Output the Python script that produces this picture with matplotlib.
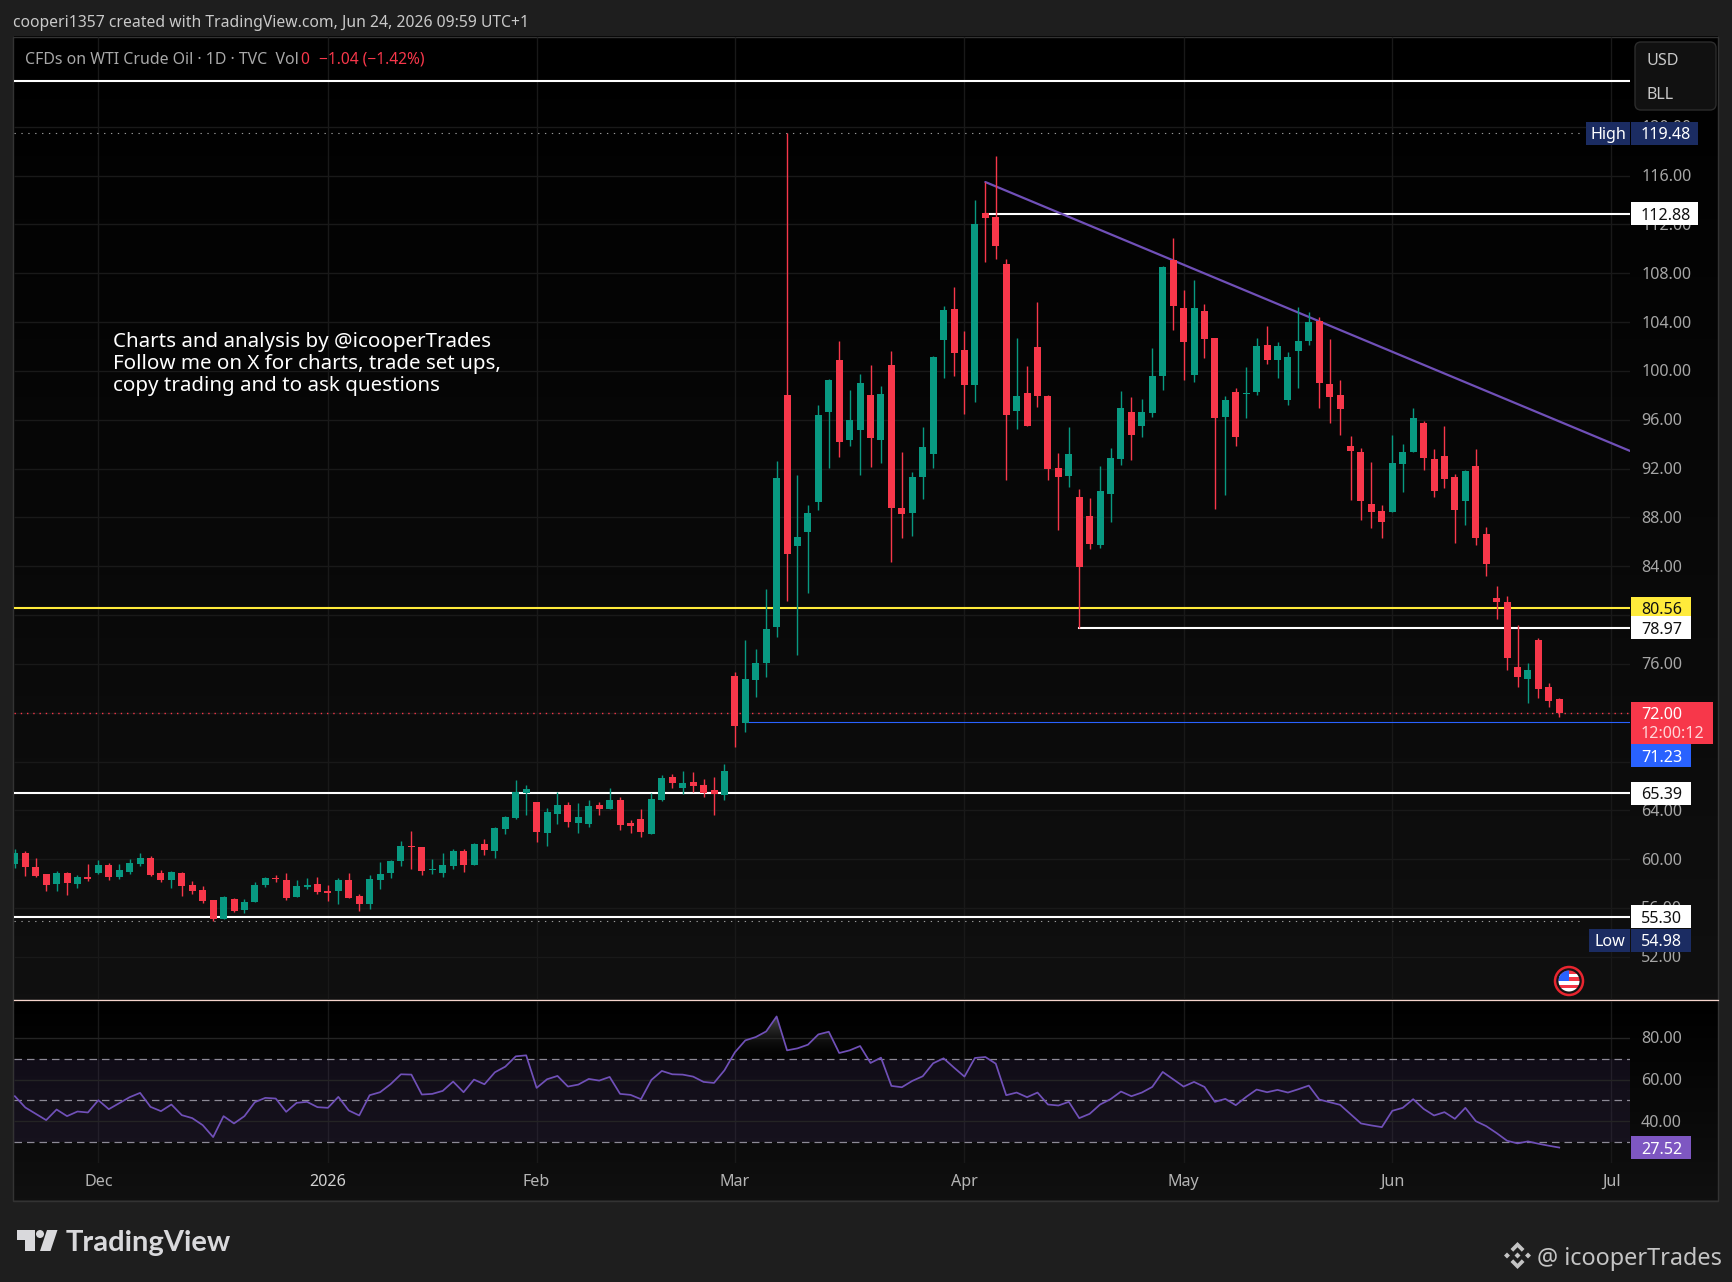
import numpy as np
import matplotlib
matplotlib.use("Agg")
import matplotlib.pyplot as plt
from matplotlib.colors import LinearSegmentedColormap
from matplotlib.patches import Rectangle, Circle, Polygon, FancyBboxPatch
from matplotlib.path import Path
from matplotlib.transforms import ScaledTranslation

plt.rcParams["font.family"] = ["Noto Sans", "DejaVu Sans"]

# daily OHLC
open_ = [59.61, 60.51, 59.37, 58.79, 57.97, 58.87, 57.97, 58.55, 58.87, 59.53,
         58.55, 58.96, 59.61, 60.10, 58.87, 58.30, 58.87, 57.89, 57.48, 56.66,
         55.11, 56.74, 55.84, 56.50, 57.89, 58.46, 58.30, 56.91, 57.73, 57.97,
         57.40, 57.40, 58.30, 56.99, 56.33, 58.30, 58.87, 59.86, 61.09, 61.00,
         59.12, 58.87, 59.45, 60.68, 59.53, 61.25, 60.68, 62.48, 63.38, 65.43,
         64.69, 62.15, 63.71, 64.45, 62.97, 62.89, 64.45, 64.12, 64.86, 62.97,
         63.30, 62.07, 64.86, 66.74, 65.84, 66.33, 66.08, 65.67, 65.27, 75.01,
         71.16, 74.69, 76.08, 79.03, 98.03, 85.66, 86.81, 89.27, 96.64, 100.90,
         94.35, 95.16, 98.03, 94.35, 100.49, 88.77, 88.37, 91.31, 93.20, 102.54,
         105.08, 101.72, 98.85, 112.94, 112.61, 108.76, 96.72, 98.20, 101.96, 97.95,
         92.05, 91.40, 89.68, 88.12, 85.75, 89.92, 92.79, 96.64, 95.49, 96.56,
         99.59, 109.09, 105.16, 99.67, 104.92, 102.70, 96.23, 98.28, 98.12, 98.28,
         102.13, 100.90, 97.62, 101.64, 102.46, 104.10, 98.93, 98.03, 93.85, 93.36,
         89.10, 88.53, 88.45, 92.38, 93.36, 95.74, 92.79, 93.03, 91.31, 89.35,
         92.21, 86.64, 81.40, 81.07, 75.75, 74.76, 77.96, 74.11, 73.13]
high = [60.84, 60.68, 60.10, 58.79, 59.04, 58.96, 58.71, 59.61, 59.94, 59.69,
        59.61, 60.02, 60.51, 60.27, 59.12, 59.04, 58.96, 58.22, 57.81, 56.66,
        56.99, 56.83, 56.74, 58.14, 58.55, 58.71, 58.87, 58.30, 58.46, 58.55,
        57.89, 58.46, 58.87, 57.15, 58.71, 59.78, 59.94, 61.50, 62.32, 61.00,
        60.02, 60.51, 60.84, 60.84, 61.33, 61.66, 62.64, 63.55, 66.49, 66.08,
        64.69, 64.20, 65.51, 64.69, 64.61, 64.86, 64.69, 65.84, 65.10, 63.22,
        64.12, 65.43, 66.90, 66.99, 67.23, 67.15, 66.58, 66.74, 67.80, 75.34,
        77.96, 77.23, 82.14, 92.62, 119.48, 91.48, 89.02, 97.21, 99.34, 102.46,
        98.44, 99.75, 100.49, 98.77, 101.64, 93.36, 91.72, 95.41, 101.23, 105.32,
        106.88, 103.27, 114.01, 115.48, 117.61, 109.17, 102.70, 100.41, 105.65, 98.03,
        93.28, 95.41, 90.33, 89.60, 92.22, 93.69, 98.36, 97.87, 97.71, 101.88,
        108.60, 110.90, 106.64, 107.45, 105.49, 102.70, 97.95, 98.61, 100.33, 102.70,
        103.69, 102.38, 101.56, 105.24, 104.83, 104.42, 102.62, 99.30, 94.67, 93.69,
        92.54, 89.02, 94.75, 94.02, 96.97, 95.90, 93.61, 95.49, 91.56, 91.89,
        93.61, 87.22, 82.38, 81.56, 79.19, 76.08, 78.12, 74.44, 73.21]
low = [59.28, 58.63, 58.55, 57.40, 57.40, 57.07, 57.65, 58.22, 58.79, 58.30,
       58.38, 58.79, 59.45, 58.63, 58.14, 57.65, 56.99, 57.15, 56.42, 54.98,
       55.11, 55.68, 55.60, 56.50, 57.73, 58.14, 56.66, 56.91, 57.56, 57.15,
       56.58, 56.33, 56.83, 55.76, 55.93, 57.56, 58.46, 59.45, 59.20, 58.71,
       58.79, 58.55, 59.20, 58.96, 59.53, 60.35, 60.10, 62.07, 63.30, 63.63,
       61.42, 61.09, 62.89, 62.64, 62.15, 62.64, 63.63, 64.12, 62.40, 62.15,
       61.82, 62.07, 64.77, 65.84, 65.35, 65.51, 65.10, 63.63, 64.86, 69.20,
       70.43, 73.29, 74.93, 78.21, 81.16, 76.73, 81.81, 88.61, 92.05, 92.95,
       93.85, 91.48, 92.13, 92.46, 84.35, 86.32, 86.48, 89.51, 92.05, 99.42,
       99.59, 96.48, 97.46, 108.93, 109.17, 91.07, 95.25, 95.49, 97.05, 91.07,
       86.97, 90.50, 78.97, 85.42, 85.50, 87.63, 92.30, 92.71, 94.59, 96.23,
       98.44, 103.36, 99.26, 99.10, 101.06, 88.69, 89.84, 93.86, 96.15, 98.03,
       100.57, 99.43, 97.21, 98.61, 102.13, 96.97, 95.74, 94.75, 89.43, 87.79,
       87.13, 86.32, 88.45, 90.08, 93.36, 91.89, 89.67, 90.41, 85.91, 87.38,
       85.74, 83.20, 79.68, 75.50, 74.11, 72.80, 73.21, 72.47, 71.65]
close = [60.51, 59.37, 58.63, 57.89, 58.87, 58.06, 58.55, 58.38, 59.53, 58.55,
         59.12, 59.69, 60.10, 58.71, 58.30, 58.96, 57.81, 57.40, 56.58, 55.11,
         56.91, 55.76, 56.50, 57.89, 58.46, 58.38, 56.83, 57.81, 57.89, 57.32,
         57.24, 58.30, 56.83, 56.33, 58.38, 58.79, 59.86, 61.09, 61.00, 59.04,
         59.20, 59.53, 60.68, 59.53, 61.25, 60.76, 62.56, 63.46, 65.51, 65.76,
         62.23, 63.87, 64.45, 63.05, 63.46, 64.36, 64.12, 64.86, 62.81, 62.73,
         62.23, 64.94, 66.66, 66.25, 66.25, 66.00, 65.43, 65.35, 67.23, 70.92,
         74.77, 76.08, 78.86, 91.23, 85.01, 86.40, 88.37, 96.39, 99.26, 94.18,
         95.98, 99.01, 94.51, 98.11, 88.77, 88.28, 91.31, 93.77, 101.14, 104.99,
         101.47, 98.85, 112.04, 112.53, 110.24, 96.39, 97.95, 95.49, 97.95, 91.97,
         91.32, 93.20, 83.94, 85.83, 90.17, 92.87, 96.97, 94.76, 96.64, 99.59,
         108.52, 105.32, 102.38, 105.16, 102.62, 96.15, 97.62, 94.59, 98.20, 102.05,
         100.90, 102.05, 101.15, 102.46, 104.01, 99.02, 97.87, 96.88, 93.44, 89.35,
         88.45, 87.63, 92.46, 93.36, 96.15, 92.87, 90.17, 91.15, 88.61, 91.80,
         86.32, 84.19, 81.07, 76.49, 74.93, 75.50, 73.95, 72.96, 72.00]
rsi = [52.04, 46.65, 43.63, 40.62, 45.69, 42.52, 44.74, 44.27, 50.14, 45.85,
       48.71, 51.57, 53.63, 46.96, 44.90, 48.08, 43.00, 41.57, 38.23, 32.52,
       42.52, 39.03, 42.52, 49.19, 51.25, 50.93, 44.58, 48.87, 49.35, 46.81,
       46.49, 51.73, 45.22, 42.84, 52.52, 53.95, 57.76, 62.52, 62.36, 52.84,
       53.15, 54.58, 59.03, 53.95, 59.98, 57.76, 63.47, 66.17, 71.09, 71.57,
       56.01, 60.14, 61.73, 56.65, 57.60, 60.30, 59.50, 61.25, 53.15, 52.68,
       50.62, 59.82, 64.11, 62.52, 62.36, 61.41, 58.87, 58.39, 64.42, 73.00,
       78.71, 80.30, 83.00, 90.14, 73.95, 74.90, 76.65, 81.57, 82.84, 72.68,
       73.95, 76.01, 67.92, 70.46, 56.96, 56.33, 59.35, 61.57, 67.76, 70.14,
       65.69, 61.41, 70.30, 70.77, 67.60, 52.52, 53.79, 51.57, 53.79, 48.08,
       47.60, 49.35, 41.57, 43.63, 48.08, 50.62, 54.27, 52.04, 53.79, 56.49,
       63.63, 60.14, 56.65, 58.87, 56.49, 49.35, 50.77, 47.76, 51.73, 55.22,
       53.95, 55.06, 53.79, 55.38, 57.12, 50.46, 49.19, 47.92, 43.47, 39.03,
       38.08, 37.28, 45.06, 46.49, 50.62, 46.01, 42.84, 44.42, 41.25, 46.49,
       40.14, 37.76, 34.42, 30.77, 29.50, 30.46, 29.35, 28.39, 27.52]

price_ticks = [52, 56, 60, 64, 68, 72, 76, 80, 84, 88, 92, 96, 100, 104, 108, 112, 116, 120]
rsi_ticks = [40, 60, 80]
date_ticks = [8, 30, 50, 69, 91, 112, 132, 153]
date_labels = ["Dec", "2026", "Feb", "Mar", "Apr", "May", "Jun", "Jul"]
price_high, price_low, price_last = 119.48, 54.98, 72.00
level_top, level_res, level_yellow, level_mid, level_blue, level_sup, level_base = \
    123.76, 112.88, 80.56, 78.97, 71.23, 65.39, 55.30
# trendline ends (bar number, price)
trend_x, trend_y = [93, 154.78], [115.48, 93.45]

W, H = 1733, 1282
GREEN, RED = "#089981", "#f7374a"
GRID = "#191919"
TICK = "#a6a6a6"
PURPLE = "#7050b8"
FS = 11.6

fig = plt.figure(figsize=(W / 100, H / 100), dpi=100, facecolor="#1e1e1e")


def pane(x0, y0, x1, y1, z):
    a = fig.add_axes([x0 / W, 1 - y1 / H, (x1 - x0) / W, (y1 - y0) / H], zorder=z)
    a.patch.set_alpha(0)
    return a


def nudge_up(a):
    # tick labels sit a little above their grid lines in the reference
    up = ScaledTranslation(0, 0.6 / 100, fig.dpi_scale_trans)
    for lab in a.get_yticklabels():
        lab.set_transform(lab.get_transform() + up)


# background gradients
bg = fig.add_axes([0, 0, 1, 1], zorder=0)
bg.set_xlim(0, W)
bg.set_ylim(H, 0)
bg.axis("off")
grad = LinearSegmentedColormap.from_list("g", ["#000000", "#101010"])
bg.imshow(np.linspace(0, 1, 200)[:, None], cmap=grad, extent=(14, 1718, 999.5, 37), aspect="auto")
bg.imshow(np.linspace(0, 1, 100)[:, None], cmap=grad, extent=(14, 1718, 1200, 1000), aspect="auto")
bg.set_xlim(0, W)
bg.set_ylim(H, 0)
bg.add_patch(Rectangle((13.5, 36.5), 1705, 1164, fill=False, ec="#333333", lw=1))

# main price pane
ax = pane(14, 37, 1630, 999.5, 1)
xs = np.arange(len(close))
colors = [GREEN if c >= o else RED for o, c in zip(open_, close)]
ax.vlines(date_ticks, 0, 1, transform=ax.get_xaxis_transform(), color=GRID, lw=1, zorder=1)
ax.hlines(price_ticks, 0, 1, transform=ax.get_yaxis_transform(), color=GRID, lw=1, zorder=1)

for lvl in [level_top, level_yellow, level_sup, level_base]:
    ax.axhline(lvl, color="#ffeb3b" if lvl == level_yellow else "#ffffff", lw=1.5, zorder=2)
ax.plot([93, 154.78], [level_res, level_res], color="#ffffff", lw=1.5, zorder=2)
ax.plot([102, 154.78], [level_mid, level_mid], color="#ffffff", lw=1.5, zorder=2)
ax.plot([70, 154.78], [level_blue, level_blue], color="#2962ff", lw=0.8, zorder=2)
ax.plot(trend_x, trend_y, color=PURPLE, lw=1.6, zorder=2.2, solid_capstyle="round")

dots = (0, (1.2, 5))
ax.hlines(price_high, 0, 0.971, transform=ax.get_yaxis_transform(), color="#9a9a9a", lw=0.8, linestyles=[dots], zorder=2)
ax.hlines(price_low, 0, 0.971, transform=ax.get_yaxis_transform(), color="#9a9a9a", lw=0.8, linestyles=[dots], zorder=2)
ax.axhline(price_last, color=RED, lw=1.0, linestyle=(0, (1, 3.5)), zorder=2)

ax.vlines(xs, low, high, colors=colors, lw=1.0, zorder=3)
ax.bar(xs, np.abs(np.array(close) - np.array(open_)), bottom=np.minimum(open_, close),
       width=7 / 10.435, color=colors, linewidth=0, zorder=4)

ax.set_xlim(-0.083, 154.78)
ax.set_ylim(48.51, 127.36)
ax.yaxis.tick_right()
ax.set_yticks(price_ticks)
ax.set_yticklabels(["%.2f" % t for t in price_ticks], color=TICK, fontsize=FS)
ax.tick_params(axis="y", length=0, pad=8)
ax.set_xticks([])
nudge_up(ax)
for s in ax.spines.values():
    s.set_visible(False)

# rsi pane
ar = pane(14, 1000.5, 1630, 1163, 1)
ar.vlines(date_ticks, 0, 1, transform=ar.get_xaxis_transform(), color=GRID, lw=1, zorder=1)
ar.axhspan(30, 70, color="#7e57c2", alpha=0.10, lw=0, zorder=1)
ar.hlines(rsi_ticks, 0, 1, transform=ar.get_yaxis_transform(), color="#242424", lw=1, zorder=1.5)
for lvl in [70, 50, 30]:
    ar.axhline(lvl, color="#8d8a96", lw=0.9, linestyle=(0, (6, 4)), zorder=2)
rsi_arr = np.array(rsi)
# overbought area fades out towards the 70 line
fade = LinearSegmentedColormap.from_list("f", ["#00000000", "#5c5c5cd0"])
poly = ar.fill_between(xs, 70, rsi_arr, where=rsi_arr > 70, interpolate=True, color="none", lw=0)
img = ar.imshow(np.linspace(1, 0, 100)[:, None], cmap=fade, extent=(40, 100, 70, rsi_arr.max()),
                aspect="auto", zorder=2)
img.set_clip_path(Path.make_compound_path(*poly.get_paths()), transform=ar.transData)
ar.plot(xs, rsi_arr, color=PURPLE, lw=1.25, zorder=3)
ar.set_xlim(-0.083, 154.78)
ar.set_ylim(20.14, 97.76)
ar.yaxis.tick_right()
ar.set_yticks(rsi_ticks)
ar.set_yticklabels(["%.2f" % t for t in rsi_ticks], color=TICK, fontsize=FS)
ar.tick_params(axis="y", length=0, pad=8)
ar.set_xticks(date_ticks)
ar.set_xticklabels(date_labels, color="#b4b4b4", fontsize=FS)
ar.get_xticklabels()[1].set_fontweight("bold")
ar.get_xticklabels()[1].set_color("#d0d0d0")
ar.tick_params(axis="x", length=0, pad=8)
nudge_up(ar)
for s in ar.spines.values():
    s.set_visible(False)

# overlay in pixels for tags, text and logos
ov = fig.add_axes([0, 0, 1, 1], zorder=3)
ov.set_xlim(0, W)
ov.set_ylim(H, 0)
ov.axis("off")
ov.patch.set_alpha(0)


def px_y(a, v):
    return H - a.transData.transform((0, v))[1]


def tag(y, text, bg_col, fg, x0=1631, x1=1691, h=23, weight="normal"):
    ov.add_patch(Rectangle((x0, y - h / 2), x1 - x0, h, fc=bg_col, ec="none"))
    ov.text(1641, y, text, color=fg, fontsize=FS, va="center_baseline", ha="left", fontweight=weight)


NAVY = "#1b2c62"
y_hi = px_y(ax, price_high)
ov.add_patch(Rectangle((1586, y_hi - 11.5), 44, 23, fc=NAVY, ec="none"))
ov.text(1608, y_hi, "High", color="#ffffff", fontsize=FS, ha="center", va="center_baseline")
tag(y_hi, "%.2f" % price_high, NAVY, "#ffffff", x1=1698)
tag(px_y(ax, level_res), "%.2f" % level_res, "#ffffff", "#111111", x1=1698)
tag(px_y(ax, level_yellow), "%.2f" % level_yellow, "#ffeb3b", "#111111")
tag(px_y(ax, level_mid), "%.2f" % level_mid, "#ffffff", "#111111")
# last price with countdown
y_last = px_y(ax, price_last)
ov.add_patch(Rectangle((1631, 702), 82, 42, fc=RED, ec="none"))
ov.text(1641, y_last, "%.2f" % price_last, color="#ffffff", fontsize=FS, va="center_baseline")
ov.text(1641, 732, "12:00:12", color="#ffd5d8", fontsize=FS, va="center_baseline")
tag(755.5, "%.2f" % level_blue, "#2962ff", "#ffffff")
tag(px_y(ax, level_sup), "%.2f" % level_sup, "#ffffff", "#111111")
tag(px_y(ax, level_base), "%.2f" % level_base, "#ffffff", "#111111")
ov.add_patch(Rectangle((1589, 929), 41, 23, fc=NAVY, ec="none"))
ov.text(1609.5, 940.5, "Low", color="#ffffff", fontsize=FS, ha="center", va="center_baseline")
tag(940.5, "%.2f" % price_low, NAVY, "#ffffff")
tag(px_y(ar, rsi[-1]), "%.2f" % rsi[-1], "#7e57c2", "#ffffff", weight="bold")

# currency box
ov.add_patch(FancyBboxPatch((1639, 46), 73, 60, boxstyle="round,pad=4,rounding_size=6", fc="#111111", ec="#2c2c2c", lw=1))
ov.text(1647, 59, "USD", color="#c8c8c8", fontsize=FS, va="center_baseline")
ov.text(1647, 93, "BLL", color="#c8c8c8", fontsize=FS, va="center_baseline")

# header
ov.text(13, 21, "cooperi1357 created with TradingView.com, Jun 24, 2026 09:59 UTC+1", color="#c9c9c9", fontsize=11.3, va="center_baseline")
ov.text(25, 58, "CFDs on WTI Crude Oil · 1D · TVC  Vol", color="#a8a8a8", fontsize=11.45, va="center_baseline")
ov.text(300, 58, "0", color=RED, fontsize=11.3, va="center_baseline")
ov.text(319, 58, "−1.04 (−1.42%)", color=RED, fontsize=11.2, va="center_baseline")

note = ["Charts and analysis by @icooperTrades", "Follow me on X for charts, trade set ups,", "copy trading and to ask questions"]
for i, line in enumerate(note):
    ov.text(113, 339 + i * 22, line, color="#ffffff", fontsize=14.8, va="center_baseline")

# TradingView logo
LOGO = "#d9d9dc"
ov.add_patch(Polygon([(17, 1230), (35, 1230), (35, 1251), (25, 1251), (25, 1240), (17, 1240)], fc=LOGO, ec="none"))
ov.add_patch(Circle((40, 1234), 4, fc=LOGO, ec="none"))
ov.add_patch(Polygon([(47, 1230), (57.5, 1230), (50.5, 1251), (40, 1251)], fc=LOGO, ec="none"))
ov.text(66, 1241, "TradingView", color=LOGO, fontsize=21, fontweight="bold", va="center_baseline", family="Lato")

# watermark
WM = "#c4c4c4"
cx, cy = 1517.5, 1255.5
ov.add_patch(Polygon([(cx, cy - 13.5), (cx + 7, cy - 6.5), (cx + 4.3, cy - 3.8), (cx, cy - 8.2), (cx - 4.3, cy - 3.8), (cx - 7, cy - 6.5)], fc=WM, ec="none"))
ov.add_patch(Polygon([(cx, cy + 13.5), (cx + 7, cy + 6.5), (cx + 4.3, cy + 3.8), (cx, cy + 8.2), (cx - 4.3, cy + 3.8), (cx - 7, cy + 6.5)], fc=WM, ec="none"))
for dx in [-10.5, 0, 10.5]:
    ov.add_patch(Polygon([(cx + dx - 3, cy), (cx + dx, cy - 3), (cx + dx + 3, cy), (cx + dx, cy + 3)], fc=WM, ec="none"))
ov.text(1537, 1256, "@ icooperTrades", color=WM, fontsize=16.9, va="center_baseline")

# calendar flag icon
fx, fy = 1569, 981
ov.add_patch(Circle((fx, fy), 14, fc="#141414", ec="#e8252f", lw=1.8))
clip = Circle((fx, fy), 10.5, transform=ov.transData)
for k, col in enumerate(["#f23645", "#ffffff", "#f23645", "#ffffff", "#f23645", "#ffffff"]):
    r = Rectangle((fx - 11, fy - 11 + k * 22 / 6), 22, 22 / 6, fc=col, ec="none")
    ov.add_patch(r)
    r.set_clip_path(clip)
canton = Rectangle((fx - 11, fy - 11), 11.5, 11, fc="#2962ff", ec="none")
ov.add_patch(canton)
canton.set_clip_path(clip)

# pane separator
ov.plot([14, 1718], [999.5, 999.5], color="#f6d5cc", lw=0.9)

fig.savefig("out.png", dpi=100, facecolor=fig.get_facecolor())
